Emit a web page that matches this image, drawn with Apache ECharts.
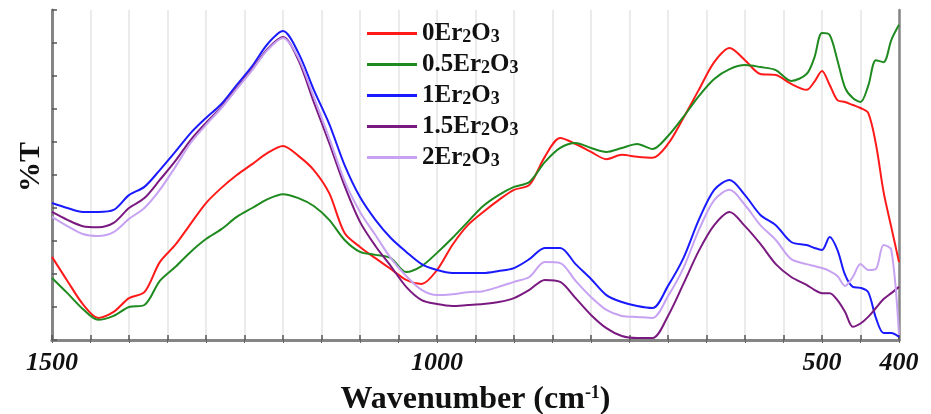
<!DOCTYPE html>
<html>
<head>
<meta charset="utf-8">
<script src="https://cdn.jsdelivr.net/npm/echarts@6/dist/echarts.min.js"></script>
<style>
  html, body { margin: 0; padding: 0; background: #fff; }
  #chart { width: 931px; height: 414px; }
</style>
</head>
<body>
<div id="chart"></div>
<script>
// FTIR transmittance spectra of glasses doped with Er2O3 (mol%)
const wavenumbers = [
  1500, 1480, 1460, 1440, 1420, 1400, 1380, 1360, 1340, 1320,
  1300, 1280, 1260, 1240, 1220, 1200, 1180, 1160, 1140, 1120,
  1100, 1080, 1060, 1040, 1020, 1000, 980, 960, 940, 920,
  900, 880, 860, 840, 820, 800, 780, 760, 740, 720,
  700, 680, 660, 640, 620, 600, 580, 560, 540, 520,
  510, 500, 490, 480, 470, 460, 450, 440, 430, 420,
  410, 400
];

const seriesNames = ['0Er2O3', '0.5Er2O3', '1Er2O3', '1.5Er2O3', '2Er2O3'];
const seriesColors = ['#ff1a1a', '#1f8a1f', '#1a1aff', '#7a1a80', '#c7a2f2'];

const er0 = [
  25.2, 17.9, 10.9, 6.7, 8.5, 12.7, 14.5, 23.6, 28.8, 35.2,
  41.5, 46.1, 50.0, 53.3, 56.7, 58.8, 55.8, 51.5, 44.5, 32.4,
  28.2, 24.8, 21.5, 18.2, 17.0, 21.2, 28.8, 34.8, 38.8, 42.4,
  45.5, 47.0, 55.5, 61.2, 59.4, 57.0, 54.8, 56.1, 55.5, 55.2,
  59.4, 67.3, 75.8, 84.2, 88.5, 84.8, 80.6, 80.3, 77.6, 75.8,
  78.2, 81.5, 77.3, 72.7, 72.1, 71.2, 70.3, 68.8, 59.4, 44.8,
  34.2, 23.6
];
const er05 = [
  18.8, 14.2, 9.4, 6.1, 7.3, 10.0, 10.6, 17.9, 22.1, 26.7,
  30.6, 33.6, 37.3, 40.0, 42.7, 44.2, 43.0, 40.6, 36.4, 30.3,
  26.7, 25.8, 24.8, 20.6, 22.4, 26.4, 30.9, 35.8, 40.6, 43.9,
  46.4, 47.9, 53.9, 58.2, 59.7, 58.2, 57.0, 58.2, 59.4, 57.9,
  61.8, 67.6, 73.9, 79.1, 82.1, 83.3, 82.7, 81.8, 78.5, 80.6,
  85.5, 93.0, 92.4, 84.8, 76.4, 73.3, 72.1, 77.0, 84.8, 84.2,
  90.9, 95.5
];
const er1 = [
  41.5, 40.0, 38.8, 38.8, 39.4, 43.9, 46.4, 51.5, 57.0, 62.7,
  67.3, 71.5, 77.3, 83.0, 89.7, 93.6, 87.0, 75.8, 65.5, 53.0,
  43.3, 36.4, 30.9, 26.7, 23.0, 21.2, 20.3, 20.3, 20.3, 20.9,
  21.8, 24.5, 27.9, 27.9, 23.0, 18.5, 13.6, 11.5, 10.3, 9.7,
  16.4, 24.8, 36.4, 45.5, 48.5, 43.9, 37.9, 34.8, 29.7, 28.8,
  27.9, 27.3, 31.2, 27.3, 19.7, 16.1, 15.8, 14.5, 6.7, 2.1,
  2.1, 0.9
];
const er15 = [
  38.8, 36.4, 34.5, 34.2, 35.5, 40.0, 43.0, 48.5, 54.2, 60.6,
  65.8, 70.6, 76.4, 82.1, 88.2, 91.8, 84.8, 72.1, 59.7, 46.7,
  35.8, 28.5, 22.4, 16.1, 12.1, 10.9, 10.3, 10.6, 10.9, 11.5,
  12.7, 15.2, 18.2, 17.6, 12.7, 7.6, 3.6, 1.2, 0.6, 0.6,
  7.3, 17.0, 27.0, 34.8, 38.8, 34.5, 29.1, 23.0, 19.1, 16.7,
  15.2, 14.2, 14.2, 12.1, 8.5, 4.0, 5.0, 7.0, 9.7, 12.4,
  14.2, 16.1
];
const er2 = [
  37.3, 34.5, 32.1, 31.5, 32.7, 36.7, 40.0, 45.5, 52.4, 59.7,
  65.2, 70.3, 76.1, 81.8, 87.9, 91.5, 85.5, 73.6, 61.2, 48.2,
  38.8, 31.8, 24.8, 19.4, 15.2, 13.6, 13.9, 14.5, 14.8, 16.1,
  17.6, 19.1, 23.6, 23.3, 17.9, 13.0, 9.1, 7.3, 7.0, 6.7,
  13.3, 21.8, 33.3, 42.4, 45.5, 40.9, 34.8, 30.3, 24.5, 23.0,
  22.4, 21.8, 20.9, 19.4, 16.4, 19.1, 23.0, 21.2, 21.5, 28.8,
  27.3, 1.5
];

const labelledTicks = [1500, 1000, 500, 400];
const allValues = [er0, er05, er1, er15, er2];

const serif = '"Liberation Serif", "DejaVu Serif", serif';
const frameColor = '#858585';

const chart = echarts.init(document.getElementById('chart'), null, { renderer: 'canvas' });

const series = seriesNames.map((name, k) => ({
  name: name,
  type: 'line',
  xAxisIndex: 0,
  yAxisIndex: 0,
  showSymbol: false,
  smooth: 0.3,
  lineStyle: { color: seriesColors[k], width: 2 },
  itemStyle: { color: seriesColors[k] },
  data: wavenumbers.map((w, i) => [w, allValues[k][i]])
}));

chart.setOption({
  animation: false,
  backgroundColor: '#ffffff',
  grid: { left: 52, right: 32, top: 10, bottom: 74, containLabel: false, outerBoundsMode: 'none' },
  legend: {
    orient: 'vertical',
    left: 362,
    top: 16,
    icon: 'rect',
    itemWidth: 50,
    itemHeight: 3,
    itemGap: 6,
    data: seriesNames,
    formatter: name => name.replace(/^(.*)Er2O3$/, '{n|$1Er}{s|2}{n|O}{s|3}'),
    textStyle: {
      fontFamily: serif,
      fontSize: 25,
      fontWeight: 'bold',
      color: '#111',
      lineHeight: 25,
      rich: {
        n: { fontFamily: serif, fontSize: 25, fontWeight: 'bold', color: '#111', lineHeight: 25 },
        s: { fontFamily: serif, fontSize: 18, fontWeight: 'bold', color: '#111', lineHeight: 18, verticalAlign: 'bottom' }
      }
    }
  },
  xAxis: [
    {
      type: 'value',
      position: 'bottom',
      min: 400,
      max: 1500,
      interval: 50,
      inverse: true,
      name: '{w|Wavenumber (cm}{sup|-1}{w|)}',
      nameLocation: 'middle',
      nameGap: 44,
      nameTextStyle: {
        rich: {
          w: { fontFamily: serif, fontSize: 32, fontWeight: 'bold', color: '#111', lineHeight: 32 },
          sup: { fontFamily: serif, fontSize: 18, fontWeight: 'bold', color: '#111', lineHeight: 18, verticalAlign: 'top' }
        }
      },
      axisLine: { show: true, lineStyle: { color: frameColor, width: 3 } },
      axisTick: { show: true, inside: true, length: 5, lineStyle: { color: '#555', width: 1.5 } },
      splitLine: { show: true, lineStyle: { color: '#e4e4e4', width: 1.5 } },
      axisLabel: {
        showMinLabel: true,
        showMaxLabel: true,
        margin: 10,
        formatter: v => (labelledTicks.includes(v) ? String(v) : ''),
        fontFamily: serif,
        fontStyle: 'italic',
        fontWeight: 'bold',
        fontSize: 26,
        color: '#111'
      }
    },
    {
      type: 'value',
      position: 'top',
      min: 400,
      max: 1500,
      interval: 50,
      inverse: true,
      axisLine: { show: true, lineStyle: { color: frameColor, width: 3 } },
      axisTick: { show: true, inside: true, length: 3, lineStyle: { color: '#666', width: 1 } },
      splitLine: { show: false },
      axisLabel: { show: false }
    }
  ],
  yAxis: [
    {
      type: 'value',
      position: 'left',
      min: 0,
      max: 100,
      interval: 10,
      name: '%T',
      nameLocation: 'middle',
      nameRotate: 90,
      nameGap: 6,
      nameTextStyle: { fontFamily: serif, fontSize: 30, fontWeight: 'bold', color: '#111', padding: [0, 0, 0, 16] },
      axisLine: { show: true, lineStyle: { color: frameColor, width: 3 } },
      axisTick: { show: true, inside: true, length: 5, lineStyle: { color: '#555', width: 1.5 } },
      axisLabel: { show: false },
      splitLine: { show: false }
    },
    {
      type: 'value',
      position: 'right',
      min: 0,
      max: 100,
      interval: 10,
      axisLine: { show: true, lineStyle: { color: frameColor, width: 2.5 } },
      axisTick: { show: false },
      axisLabel: { show: false },
      splitLine: { show: false }
    }
  ],
  series: series
});
</script>
</body>
</html>
